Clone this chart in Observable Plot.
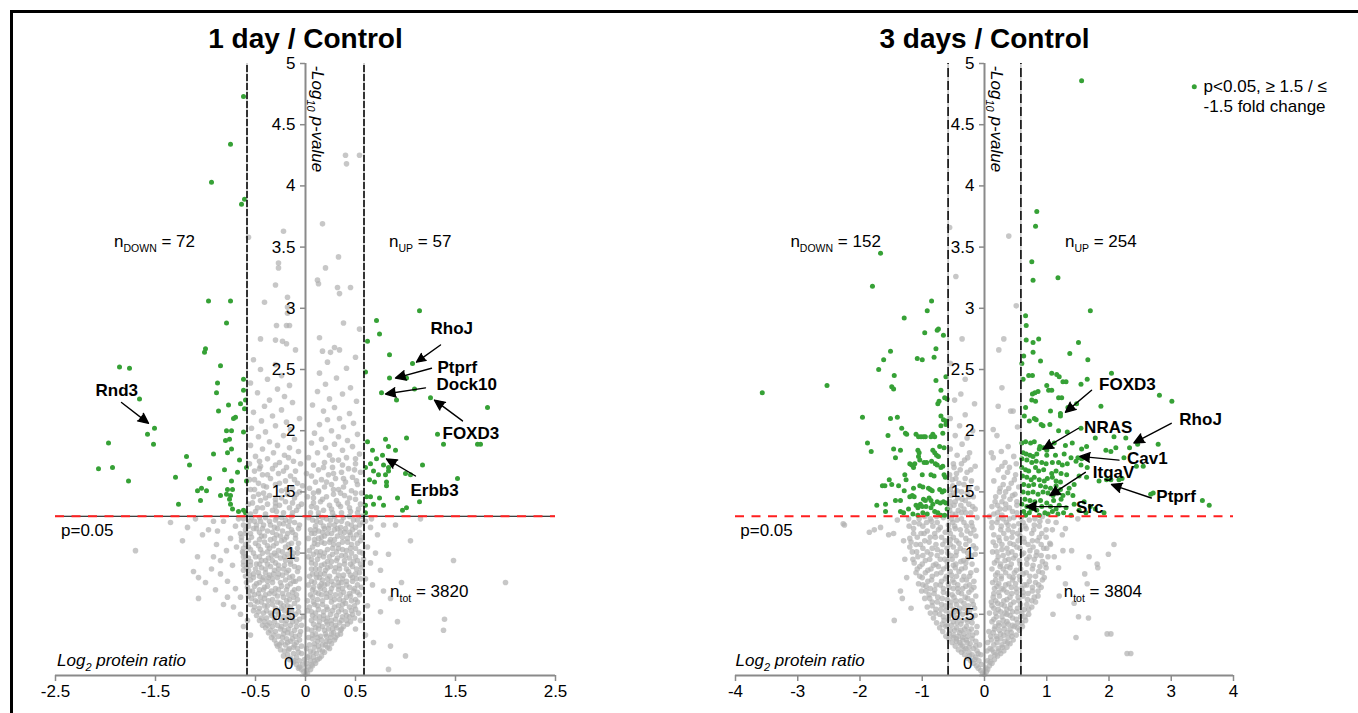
<!DOCTYPE html>
<html><head><meta charset="utf-8">
<script src="https://cdn.jsdelivr.net/npm/d3@7"></script>
<script src="https://cdn.jsdelivr.net/npm/@observablehq/plot@0.6"></script>
<style>
html,body{margin:0;padding:0;background:#fff;}
#wrap{position:relative;width:1358px;height:713px;overflow:hidden;}
#frame{position:absolute;left:10px;top:10px;width:1400px;height:800px;border-top:3px solid #000;border-left:3px solid #000;}
.panel{position:absolute;top:0;}
</style></head><body>
<div id="wrap"><div id="frame"></div><div id="p1" class="panel" style="left:0;width:680px"></div><div id="p2" class="panel" style="left:680px;width:678px"></div></div>
<script>
// ---------- data: 1 day / Control ----------
const greenDay1 = [
[-0.62,4.73],[-0.75,4.34],[-0.94,4.03],[-0.61,3.89],[-0.64,3.85],[-0.97,3.06],[-0.75,3.06],[-0.79,2.88],[-1.00,2.67],[-1.01,2.64],
[-1.86,2.52],[-1.76,2.51],[-0.85,2.53],[-0.62,2.42],[-0.88,2.39],[-0.89,2.31],[-0.62,2.33],[-1.66,2.26],[-0.60,2.25],[-0.77,2.21],
[-0.65,2.22],[-0.61,2.18],[-0.87,2.16],[-0.70,2.11],[-0.72,2.10],[-1.51,2.02],[-1.58,1.97],[-0.79,2.00],[-0.74,2.00],[-0.62,1.99],
[-1.52,1.89],[-1.97,1.90],[-0.80,1.92],[-0.76,1.93],[-0.74,1.85],[-0.78,1.82],[-0.92,1.81],[-1.19,1.79],[-1.16,1.72],[-0.66,1.76],
[-2.07,1.69],[-1.93,1.70],[-0.81,1.68],[-0.59,1.70],[-0.68,1.66],[-1.30,1.62],[-1.77,1.59],[-0.96,1.61],[-0.74,1.59],[-0.59,1.59],
[-1.04,1.53],[-1.08,1.51],[-0.99,1.51],[-0.78,1.52],[-0.73,1.52],[-0.85,1.47],[-0.79,1.48],[-0.75,1.47],[-1.05,1.43],[-1.27,1.40],
[-0.76,1.44],[-0.75,1.40],[-0.73,1.36],[-0.67,1.34],[-0.62,1.35],[-0.60,1.33],
[1.14,2.98],[0.71,2.90],[0.74,2.79],[0.62,2.73],[0.84,2.62],[1.07,2.55],[0.60,2.48],[0.84,2.43],[1.01,2.43],[1.09,2.34],
[0.76,2.31],[0.91,2.25],[1.25,2.27],[1.82,2.19],[1.32,1.97],[1.38,1.89],[1.72,1.89],[1.75,1.89],[0.62,1.91],[0.80,1.93],
[1.01,1.94],[0.67,1.84],[0.83,1.87],[0.90,1.84],[0.77,1.80],[0.71,1.77],[0.65,1.73],[0.78,1.72],[0.83,1.70],[0.83,1.67],
[0.60,1.70],[1.17,1.72],[0.68,1.67],[0.73,1.64],[0.80,1.64],[1.00,1.65],[1.05,1.64],[1.52,1.61],[0.64,1.60],[0.81,1.58],
[0.81,1.55],[0.69,1.58],[0.92,1.45],[0.61,1.46],[0.65,1.46],[0.74,1.45],[1.14,1.42],[0.60,1.39],[0.68,1.40],[0.78,1.39],
[1.01,1.37],[0.97,1.35],[0.60,1.33]
];
const greyDay1 = [
[0.00,0.01],[0.02,0.02],[-0.02,0.03],[0.01,0.04],[-0.04,0.05],[0.05,0.05],[-0.06,0.07],[0.03,0.07],[0.07,0.08],[-0.09,0.09],[-0.03,0.09],[0.10,0.10],[0.01,0.10],
[-0.12,0.11],[-0.06,0.12],[0.05,0.12],[0.12,0.13],[-0.15,0.14],[-0.09,0.15],[0.02,0.15],[0.08,0.15],[0.16,0.16],[-0.18,0.17],[-0.12,0.18],[-0.04,0.18],[0.11,0.18],[0.19,0.19],[-0.21,0.20],[0.05,0.20],[0.14,0.21],
[-0.25,0.21],[-0.16,0.22],[-0.08,0.22],[0.09,0.23],[0.22,0.23],[-0.28,0.24],[-0.20,0.25],[-0.11,0.25],[0.04,0.25],[0.17,0.25],[0.26,0.26],[-0.24,0.27],[-0.15,0.28],[0.12,0.28],[0.21,0.28],[0.29,0.29],[-0.31,0.29],[-0.06,0.29],[0.07,0.30],[-0.19,0.30],[0.25,0.31],
[-0.34,0.31],[-0.27,0.32],[-0.10,0.32],[0.15,0.32],[0.32,0.33],[-0.22,0.34],[-0.14,0.34],[0.10,0.34],[0.20,0.34],[0.28,0.35],[-0.37,0.35],[-0.30,0.36],[-0.05,0.36],[0.35,0.37],[0.06,0.37],[-0.25,0.38],[-0.17,0.38],[0.13,0.38],[0.23,0.38],[0.31,0.39],[-0.40,0.39],[-0.33,0.40],[-0.09,0.40],[0.17,0.40],[0.38,0.40],
[-0.43,0.41],[-0.28,0.41],[-0.20,0.42],[0.08,0.42],[0.26,0.42],[0.34,0.43],[-0.36,0.43],[-0.13,0.44],[0.14,0.44],[0.21,0.44],[0.41,0.45],[-0.46,0.45],[-0.24,0.45],[-0.06,0.46],[0.30,0.46],[-0.39,0.47],[-0.31,0.47],[0.10,0.47],[0.37,0.48],[0.44,0.48],[-0.17,0.48],[-0.49,0.49],[0.18,0.49],[0.25,0.50],[-0.27,0.50],[-0.10,0.50],[0.47,0.50],
[-0.42,0.51],[-0.35,0.51],[0.06,0.52],[0.33,0.52],[0.40,0.52],[-0.52,0.53],[-0.21,0.53],[-0.14,0.53],[0.13,0.54],[0.22,0.54],[0.50,0.54],[-0.46,0.55],[-0.30,0.55],[-0.07,0.56],[0.29,0.56],[0.44,0.56],[-0.38,0.57],[-0.18,0.57],[0.09,0.58],[0.17,0.58],[0.37,0.58],[-0.55,0.58],[-0.25,0.59],[-0.11,0.59],[0.26,0.60],[0.52,0.60],[-0.44,0.60],[0.46,0.61],
[-0.50,0.61],[-0.33,0.62],[-0.16,0.62],[0.12,0.62],[0.34,0.62],[-0.41,0.63],[-0.22,0.64],[0.07,0.64],[0.21,0.64],[0.41,0.64],[-0.57,0.65],[-0.28,0.65],[-0.09,0.66],[0.16,0.66],[0.30,0.66],[0.54,0.66],[-0.47,0.67],[-0.36,0.67],[-0.13,0.68],[0.10,0.68],[0.25,0.68],[0.38,0.68],[0.48,0.69],[-0.53,0.69],[-0.19,0.70],[-0.42,0.70],[0.19,0.70],[0.33,0.70],
[-0.30,0.71],[-0.07,0.71],[0.08,0.72],[0.44,0.72],[-0.58,0.72],[-0.38,0.73],[-0.24,0.73],[0.14,0.73],[0.28,0.74],[0.52,0.74],[-0.49,0.75],[-0.15,0.75],[0.22,0.75],[0.36,0.76],[-0.33,0.76],[-0.10,0.77],[0.06,0.77],[0.41,0.77],[-0.55,0.78],[-0.43,0.78],[-0.20,0.78],[0.17,0.78],[0.31,0.79],[0.55,0.79],[-0.28,0.80],[0.11,0.80],[0.47,0.80],[-0.37,0.80],
[-0.60,0.81],[-0.46,0.81],[-0.13,0.81],[0.24,0.81],[0.38,0.82],[-0.23,0.82],[-0.52,0.83],[-0.32,0.83],[0.07,0.83],[0.15,0.83],[0.50,0.83],[-0.40,0.84],[-0.08,0.85],[0.29,0.85],[0.43,0.85],[-0.17,0.86],[0.20,0.86],[-0.57,0.86],[-0.27,0.87],[0.10,0.87],[0.34,0.87],[0.56,0.88],[-0.44,0.88],[-0.35,0.89],[-0.11,0.89],[0.25,0.89],[0.47,0.89],[-0.62,0.90],[0.16,0.90],[-0.21,0.90],
[-0.49,0.91],[0.39,0.91],[0.06,0.92],[-0.30,0.92],[-0.55,0.93],[-0.15,0.93],[0.22,0.93],[0.31,0.94],[0.52,0.94],[-0.40,0.94],[-0.09,0.95],[0.12,0.95],[0.44,0.96],[-0.25,0.96],[-0.60,0.97],[-0.46,0.97],[0.18,0.97],[0.36,0.98],[-0.34,0.98],[-0.18,0.99],[0.08,0.99],[0.27,0.99],[0.57,1.00],[-0.52,1.00],[-0.12,1.00],
[-0.63,1.01],[-0.38,1.01],[0.15,1.01],[0.41,1.02],[-0.27,1.02],[0.22,1.03],[-0.45,1.03],[-0.08,1.04],[0.33,1.04],[0.50,1.04],[-0.57,1.05],[-0.20,1.05],[0.07,1.05],[-0.32,1.06],[0.12,1.07],[0.28,1.07],[0.46,1.07],[-0.50,1.08],[-0.14,1.08],[0.19,1.08],[0.37,1.09],[-0.41,1.09],[-0.24,1.10],[0.55,1.10],[-0.64,1.10],
[-0.35,1.11],[0.09,1.11],[0.25,1.11],[-0.10,1.12],[0.42,1.12],[-0.54,1.13],[-0.19,1.13],[0.16,1.13],[0.32,1.14],[-0.44,1.14],[-0.29,1.15],[0.51,1.15],[0.06,1.16],[0.22,1.16],[-0.60,1.16],[-0.13,1.17],[0.39,1.17],[-0.38,1.18],[-0.23,1.18],[0.13,1.18],[0.29,1.19],[0.47,1.19],[-0.49,1.20],[-0.07,1.20],[0.19,1.20],
[-0.31,1.21],[0.35,1.21],[-0.57,1.22],[-0.17,1.22],[0.10,1.22],[0.54,1.23],[-0.42,1.23],[0.24,1.23],[-0.26,1.24],[0.42,1.24],[-0.11,1.25],[0.15,1.25],[-0.51,1.26],[-0.36,1.26],[0.31,1.26],[-0.20,1.27],[0.07,1.27],[0.48,1.27],[-0.62,1.28],[0.21,1.28],[-0.46,1.29],[-0.29,1.29],[0.38,1.29],[-0.14,1.30],[0.13,1.30],[0.56,1.30],
[-0.55,1.32],[-0.40,1.32],[-0.22,1.33],[0.05,1.33],[0.27,1.33],[0.45,1.34],[-0.33,1.35],[-0.09,1.35],[0.18,1.35],[0.53,1.36],[-0.48,1.37],[-0.16,1.37],[0.11,1.37],[0.35,1.38],[-0.26,1.39],[0.24,1.39],[-0.57,1.40],[-0.38,1.40],[-0.04,1.40],[0.42,1.41],[0.15,1.42],[-0.20,1.42],[-0.45,1.43],[0.31,1.43],[0.50,1.44],[-0.30,1.44],[-0.11,1.45],[0.08,1.45],[0.21,1.46],[-0.52,1.46],[0.39,1.47],[-0.36,1.47],[-0.18,1.48],[0.28,1.48],[0.56,1.49],[-0.42,1.49],[0.13,1.50],[-0.06,1.50],
[-0.24,1.51],[0.46,1.51],[-0.55,1.52],[0.33,1.52],[-0.13,1.53],[0.04,1.53],[0.19,1.54],[-0.39,1.54],[-0.30,1.56],[0.26,1.56],[0.52,1.56],[-0.47,1.57],[-0.08,1.57],[0.10,1.58],[0.40,1.58],[-0.20,1.59],[0.16,1.60],[-0.56,1.60],[-0.35,1.61],[0.30,1.61],[0.47,1.62],[-0.15,1.63],[0.06,1.63],[-0.43,1.64],[0.23,1.64],[-0.27,1.65],[0.36,1.66],[0.55,1.66],[-0.51,1.67],[-0.10,1.67],[0.13,1.68],[-0.33,1.69],[0.43,1.69],[-0.19,1.70],[0.27,1.70],
[-0.45,1.71],[0.08,1.72],[-0.56,1.73],[0.50,1.73],[-0.26,1.74],[0.19,1.74],[-0.12,1.75],[0.33,1.76],[-0.38,1.77],[0.41,1.78],[0.03,1.78],[-0.50,1.79],[-0.21,1.80],[0.24,1.80],[0.54,1.81],[-0.32,1.82],[0.12,1.82],[-0.07,1.83],[0.37,1.84],[-0.43,1.85],[-0.16,1.86],[0.20,1.86],[0.47,1.87],[-0.55,1.88],[-0.28,1.88],[0.29,1.89],[0.06,1.90],
[-0.36,1.91],[0.42,1.92],[-0.11,1.93],[0.16,1.93],[-0.47,1.95],[0.33,1.95],[-0.22,1.96],[0.52,1.97],[0.09,1.98],[-0.40,1.99],[0.26,2.00],[-0.15,2.01],[-0.54,2.02],[0.38,2.03],[-0.30,2.04],[0.14,2.05],[0.48,2.06],[-0.19,2.07],[-0.44,2.08],[0.22,2.09],[-0.06,2.10],[0.34,2.10],
[-0.33,2.12],[0.44,2.14],[-0.52,2.15],[0.18,2.16],[-0.24,2.17],[0.29,2.19],[-0.41,2.20],[0.07,2.21],[-0.13,2.23],[0.51,2.24],[-0.36,2.25],[0.24,2.26],[-0.21,2.28],[0.37,2.30],[-0.48,2.31],[0.12,2.32],[-0.28,2.34],[0.45,2.35],[-0.16,2.37],[0.20,2.38],[-0.55,2.39],
[-0.38,2.42],[0.31,2.43],[-0.24,2.45],[0.14,2.47],[-0.45,2.50],[0.41,2.51],[-0.30,2.54],[0.22,2.56],[-0.52,2.58],[0.50,2.60],[-0.10,2.66],[0.17,2.65],[0.25,2.64],[0.34,2.66],[0.29,2.68],
[-0.45,2.75],[0.14,2.76],[-0.30,2.74],[-0.23,2.73],[-0.19,2.71],[0.38,2.88],[-0.29,2.86],[-0.19,2.86],[-0.16,2.86],[0.54,2.83],[-0.41,3.05],[-0.18,3.09],[-0.18,3.01],[-0.18,2.96],[-0.30,3.19],[0.32,3.17],[0.34,3.12],[0.45,3.17],[0.12,3.23],[0.13,3.20],[0.20,3.33],[0.33,3.42],[-0.27,3.37],[-0.27,3.33],[-0.57,3.58],[-0.22,3.63],[0.17,3.69],[0.40,4.25],[0.41,4.18],[0.54,4.25],
[-1.23,1.10],[-1.70,1.02],[-1.18,1.21],[-1.03,1.15],[-0.92,1.26],[-0.82,1.26],[-0.70,1.22],[-0.65,1.16],[-0.89,1.07],[-0.79,1.02],[-0.69,1.05],[-1.08,0.97],[-0.94,0.87],[-1.07,0.80],[-1.12,0.85],[-1.00,0.76],[-0.85,0.83],[-0.78,0.77],[-0.70,0.71],[-0.65,0.64],[-1.07,0.63],[-0.78,0.64],[-0.72,0.56],[-0.65,0.50],[-0.85,0.94],[-0.73,0.90],[-0.92,0.97],[-0.62,0.86],[-0.62,0.97],[-0.75,1.12],[-0.97,1.19],[-1.35,1.25],[-1.10,1.28],[-0.88,1.18],[-0.67,1.28],[-0.58,0.45],[-0.62,0.40],[-0.90,0.70],[-0.82,0.58],[-0.55,0.33],
[0.60,1.26],[0.65,1.21],[0.72,1.15],[0.78,1.23],[0.90,1.23],[0.83,0.99],[0.65,0.92],[0.75,0.86],[0.60,0.79],[0.67,0.74],[0.78,0.69],[0.85,0.63],[0.96,0.76],[0.62,0.57],[0.75,0.52],[0.92,0.44],[1.48,0.94],[2.00,0.76],[1.39,0.46],[1.38,0.37],[0.85,0.24],[1.00,0.16],[0.83,0.05],[0.60,0.33],[0.68,0.27],[0.62,1.05],[0.70,1.00],[1.05,1.10],[1.15,1.28],[0.66,1.28],[0.58,0.95],[0.55,0.45],[0.50,0.38]
];
const greyDay1Dense = [
[-0.07,0.06],[0.06,0.09],[-0.11,0.12],[0.09,0.12],[-0.01,0.13],[0.14,0.14],[-0.16,0.13],[0.04,0.16],
[-0.22,0.16],[-0.07,0.19],[0.08,0.19],[0.17,0.20],[-0.17,0.21],[0.01,0.22],[0.24,0.22],[-0.12,0.23],[0.13,0.24],[-0.26,0.25],[-0.04,0.24],[0.20,0.25],
[-0.29,0.26],[-0.18,0.27],[-0.09,0.27],[0.09,0.26],[0.16,0.29],[0.24,0.28],[-0.23,0.31],[-0.13,0.30],[0.03,0.31],[0.12,0.31],[0.21,0.32],[0.30,0.31],[-0.32,0.33],[-0.06,0.33],[0.07,0.33],[0.26,0.34],[-0.18,0.35],[0.35,0.34],
[-0.35,0.37],[-0.21,0.37],[-0.11,0.37],[0.02,0.38],[0.10,0.39],[0.19,0.37],[0.27,0.38],[0.36,0.38],[-0.38,0.41],[-0.24,0.40],[-0.15,0.41],[-0.04,0.41],[0.13,0.41],[0.22,0.42],[0.30,0.41],[0.42,0.42],[-0.41,0.44],[-0.31,0.44],[-0.19,0.45],[-0.09,0.44],[0.06,0.45],[0.18,0.46],[0.26,0.45],[0.36,0.45],[0.45,0.44],
[-0.44,0.47],[-0.34,0.49],[-0.22,0.48],[-0.13,0.47],[-0.02,0.48],[0.07,0.49],[0.14,0.48],[0.22,0.47],[0.31,0.49],[0.41,0.49],[0.49,0.47],[-0.47,0.52],[-0.39,0.53],[-0.29,0.52],[-0.17,0.51],[-0.07,0.52],[0.02,0.53],[0.10,0.51],[0.18,0.52],[0.27,0.53],[0.36,0.54],[0.46,0.53],[-0.24,0.55],[0.53,0.51],
[-0.51,0.56],[-0.41,0.57],[-0.33,0.58],[-0.22,0.57],[-0.15,0.56],[0.04,0.56],[0.12,0.57],[0.21,0.56],[0.33,0.57],[0.40,0.59],[0.49,0.57],[-0.48,0.60],[-0.37,0.61],[-0.28,0.60],[-0.19,0.61],[-0.08,0.62],[0.02,0.61],[0.08,0.60],[0.17,0.61],[0.29,0.62],[0.38,0.61],[0.50,0.62],[-0.54,0.63],[-0.45,0.64],[-0.12,0.64],[0.25,0.64],[0.45,0.65],
[-0.51,0.66],[-0.40,0.66],[-0.31,0.67],[-0.23,0.67],[-0.17,0.66],[0.05,0.66],[0.13,0.67],[0.21,0.67],[0.35,0.66],[0.44,0.67],[0.52,0.68],[-0.56,0.69],[-0.46,0.70],[-0.34,0.69],[-0.27,0.70],[-0.11,0.70],[0.07,0.70],[0.15,0.71],[0.26,0.71],[0.37,0.71],[0.49,0.71],[-0.51,0.73],[-0.41,0.72],[-0.18,0.73],[0.03,0.74],[0.19,0.74],[0.33,0.73],[0.41,0.74],[0.56,0.72],
[-0.59,0.76],[-0.46,0.76],[-0.38,0.77],[-0.25,0.76],[-0.12,0.77],[0.09,0.76],[0.16,0.75],[0.26,0.77],[0.33,0.76],[0.47,0.77],[-0.52,0.80],[-0.42,0.80],[-0.33,0.79],[-0.16,0.80],[-0.06,0.79],[0.14,0.80],[0.22,0.79],[0.37,0.79],[0.51,0.79],[-0.56,0.82],[-0.36,0.82],[-0.27,0.83],[-0.19,0.84],[0.04,0.81],[0.11,0.83],[0.19,0.83],[0.33,0.82],[0.45,0.82],[0.54,0.84],[-0.47,0.84],
[-0.59,0.88],[-0.50,0.87],[-0.40,0.87],[-0.31,0.86],[-0.22,0.87],[-0.07,0.88],[0.06,0.87],[0.14,0.87],[0.22,0.88],[0.30,0.88],[0.41,0.87],[0.51,0.87],[-0.55,0.90],[-0.46,0.91],[-0.38,0.91],[-0.27,0.90],[-0.15,0.91],[0.10,0.91],[0.19,0.91],[0.34,0.90],[0.45,0.91],[0.55,0.91],[-0.62,0.93],[-0.44,0.94],[-0.33,0.94],[-0.20,0.94],[0.06,0.95],[0.26,0.93],[0.39,0.94],[0.48,0.93],
[-0.57,0.96],[-0.50,0.97],[-0.37,0.96],[-0.29,0.98],[-0.21,0.97],[-0.13,0.97],[0.03,0.97],[0.14,0.98],[0.24,0.97],[0.32,0.96],[0.40,0.98],[0.50,0.97],[-0.62,1.00],[-0.43,1.00],[-0.31,1.00],[-0.23,1.01],[-0.08,1.00],[0.11,1.01],[0.19,1.00],[0.31,1.01],[0.46,1.00],[0.54,1.01],[-0.55,1.03],[-0.36,1.04],[-0.15,1.03],[0.04,1.02],[0.27,1.04],[0.37,1.03],[0.45,1.04],[-0.62,1.04],
[-0.60,1.07],[-0.47,1.06],[-0.38,1.06],[-0.29,1.08],[-0.17,1.07],[-0.07,1.08],[0.09,1.08],[0.16,1.09],[0.24,1.09],[0.33,1.07],[0.42,1.09],[0.52,1.08],[-0.57,1.10],[-0.46,1.11],[-0.31,1.12],[-0.21,1.11],[0.03,1.12],[0.13,1.12],[0.29,1.11],[0.37,1.13],[0.48,1.12],[-0.64,1.13],[-0.41,1.14],[-0.25,1.14],[-0.10,1.15],[0.19,1.14],[0.45,1.15],[0.56,1.13],
[-0.55,1.16],[-0.46,1.17],[-0.33,1.17],[-0.18,1.16],[0.09,1.16],[0.17,1.17],[0.26,1.16],[0.35,1.17],[0.44,1.17],[0.54,1.17],[-0.60,1.19],[-0.52,1.20],[-0.43,1.20],[-0.28,1.20],[-0.14,1.19],[0.05,1.19],[0.10,1.19],[0.23,1.20],[0.32,1.20],[0.40,1.20],[0.50,1.21],[-0.62,1.23],[-0.49,1.23],[-0.35,1.23],[-0.22,1.24],[-0.06,1.23],[0.18,1.22],[0.29,1.23],[0.46,1.23],[0.57,1.25],[-0.56,1.26],[-0.45,1.26],[-0.30,1.27],[-0.16,1.26],[0.11,1.26],[0.25,1.27],[0.36,1.26],[0.52,1.27],[-0.40,1.29],[-0.24,1.29],[0.03,1.29],[0.17,1.29],[0.29,1.30],[0.44,1.30],[-0.54,1.29],
[-0.50,1.34],[-0.29,1.34],[-0.13,1.33],[0.13,1.33],[0.36,1.33],[0.52,1.33],[-0.43,1.37],[-0.30,1.38],[-0.07,1.38],[0.06,1.38],[0.26,1.36],[0.44,1.37],[-0.53,1.41],[-0.30,1.41],[-0.13,1.41],[0.08,1.41],[0.33,1.40],[0.55,1.40],[-0.40,1.45],[-0.24,1.45],[0.02,1.46],[0.17,1.44],[0.44,1.45],[-0.47,1.48],[-0.09,1.48],[0.08,1.49],[0.35,1.49],[0.50,1.49],
[-0.51,1.52],[-0.19,1.52],[0.13,1.51],[0.28,1.52],[-0.42,1.55],[-0.03,1.55],[0.38,1.54],[-0.26,1.57],[0.21,1.58],[0.51,1.59],[-0.51,1.60],[-0.11,1.60],[0.38,1.61],[-0.38,1.64],[0.01,1.65],[0.28,1.65],[-0.22,1.67],[0.49,1.68],[-0.46,1.69],[0.18,1.70],[-0.30,1.72],[0.37,1.72],[-0.05,1.73],[0.27,1.76],[-0.46,1.75],[-0.17,1.78],[0.50,1.77]
];

// ---------- data: 3 days / Control ----------
const greenDay3 = [
[-1.67,3.45],[-1.80,3.18],[-0.85,3.06],[-0.92,2.98],[-1.29,2.92],[-0.96,2.80],[-0.76,2.82],[-0.74,2.83],[-0.66,2.78],[-1.51,2.65],
[-0.78,2.67],[-1.62,2.58],[-1.08,2.59],[-1.00,2.58],[-0.81,2.60],[-1.70,2.50],[-1.45,2.45],[-0.78,2.41],[-0.62,2.44],[-1.49,2.36],
[-1.46,2.34],[-3.57,2.31],[-2.53,2.37],[-0.70,2.33],[-0.64,2.27],[-0.60,2.26],[-0.73,2.24],[-0.75,2.22],[-1.96,2.11],[-1.51,2.10],
[-1.40,2.11],[-0.70,2.12],[-0.66,2.09],[-0.62,2.08],[-0.62,2.05],[-1.33,2.02],[-0.70,2.04],[-1.27,1.98],[-1.25,1.97],[-1.10,1.97],
[-1.06,1.95],[-1.02,1.95],[-0.98,1.95],[-0.95,1.95],[-0.83,1.97],[-0.86,1.95],[-0.80,1.95],[-0.67,1.98],[-1.55,1.96],[-1.88,1.90],
[-1.82,1.83],[-1.46,1.85],[-1.35,1.84],[-1.43,1.78],[-1.07,1.84],[-1.05,1.82],[-1.06,1.79],[-1.04,1.76],[-0.83,1.84],[-0.80,1.82],
[-0.77,1.80],[-0.74,1.79],[-0.72,1.87],[-0.65,1.86],[-1.20,1.73],[-1.17,1.72],[-1.14,1.70],[-1.12,1.73],[-0.97,1.74],[-0.93,1.74],
[-0.85,1.75],[-0.79,1.73],[-0.76,1.72],[-0.70,1.70],[-0.67,1.71],[-1.28,1.64],[-1.26,1.60],[-1.00,1.64],[-0.86,1.64],[-0.81,1.63],
[-0.65,1.64],[-0.63,1.62],[-1.53,1.60],[-1.64,1.55],[-1.60,1.55],[-1.49,1.56],[-1.38,1.55],[-1.29,1.51],[-1.14,1.53],[-1.04,1.55],
[-0.99,1.54],[-0.90,1.53],[-0.87,1.52],[-0.84,1.51],[-0.72,1.52],[-0.68,1.50],[-0.65,1.51],[-1.20,1.46],[-1.16,1.47],[-1.13,1.46],
[-0.98,1.44],[-0.95,1.43],[-0.89,1.45],[-0.86,1.43],[-0.76,1.42],[-0.71,1.41],[-0.66,1.42],[-0.62,1.41],[-1.73,1.39],[-1.59,1.40],
[-1.43,1.43],[-1.35,1.43],[-1.59,1.34],[-1.35,1.34],[-1.30,1.33],[-1.10,1.39],[-1.07,1.37],[-1.03,1.40],[-1.00,1.38],[-1.15,1.32],
[-1.07,1.31],[-0.99,1.33],[-0.92,1.32],[-0.80,1.34],[-0.75,1.33],[-0.70,1.31],[-0.94,1.38],[-0.86,1.37],[-0.60,1.36],[-0.64,1.31],
[-1.22,1.36],[-0.83,1.40],
[1.56,4.86],[0.84,3.79],[0.82,3.67],[0.76,3.38],[0.78,3.23],[1.18,3.25],[1.70,2.98],[0.66,2.94],[0.67,2.86],[0.67,2.74],
[0.78,2.72],[0.87,2.75],[1.51,2.72],[0.78,2.64],[0.63,2.61],[1.37,2.63],[1.66,2.58],[0.90,2.57],[0.60,2.55],[1.08,2.47],
[1.16,2.46],[1.20,2.44],[0.71,2.45],[0.77,2.45],[1.31,2.40],[1.26,2.40],[0.62,2.42],[1.55,2.38],[1.65,2.42],[2.04,2.47],
[1.00,2.37],[1.03,2.33],[1.08,2.33],[0.86,2.32],[0.81,2.31],[0.77,2.30],[0.76,2.25],[0.82,2.24],[1.19,2.27],[1.24,2.27],
[2.81,2.29],[3.01,2.24],[0.66,2.19],[1.06,2.16],[1.22,2.14],[1.22,2.12],[1.34,2.19],[1.87,2.20],[1.48,2.22],[0.64,2.12],
[0.72,2.08],[0.80,2.10],[0.83,2.09],[0.91,2.05],[0.94,2.04],[1.05,2.05],[1.19,2.00],[1.33,1.99],[1.55,2.02],[1.78,1.94],
[2.08,1.95],[2.27,1.94],[2.33,1.86],[2.46,1.89],[2.79,1.89],[2.11,1.86],[0.60,1.90],[0.66,1.91],[0.74,1.90],[0.80,1.91],
[0.89,1.87],[0.95,1.86],[1.00,1.84],[0.88,1.85],[1.12,1.90],[1.30,1.88],[1.41,1.90],[1.56,1.85],[1.64,1.87],[1.95,1.84],
[2.03,1.83],[0.62,1.82],[0.67,1.81],[0.73,1.80],[0.78,1.79],[0.84,1.81],[1.00,1.80],[1.14,1.80],[1.28,1.81],[1.39,1.78],
[1.50,1.78],[1.56,1.77],[2.24,1.78],[0.60,1.77],[0.68,1.76],[0.76,1.74],[0.83,1.75],[0.92,1.74],[0.99,1.73],[1.09,1.74],
[1.19,1.74],[1.25,1.72],[1.33,1.73],[1.47,1.75],[1.55,1.72],[1.65,1.70],[2.44,1.71],[2.55,1.71],[0.60,1.70],[0.66,1.68],
[0.71,1.67],[0.82,1.70],[0.87,1.67],[0.95,1.68],[1.08,1.65],[1.15,1.67],[1.23,1.65],[1.32,1.64],[1.52,1.63],[1.64,1.62],
[1.84,1.59],[1.96,1.60],[2.03,1.60],[2.16,1.60],[2.21,1.61],[0.61,1.63],[0.68,1.62],[0.75,1.60],[0.80,1.62],[0.88,1.60],
[0.96,1.59],[1.01,1.61],[1.09,1.62],[1.15,1.59],[1.22,1.58],[0.63,1.56],[0.71,1.55],[0.79,1.56],[0.90,1.55],[0.98,1.54],
[1.06,1.53],[1.15,1.55],[1.22,1.52],[1.36,1.53],[1.44,1.56],[2.67,1.48],[2.71,1.49],[3.50,1.43],[3.61,1.39],[0.62,1.50],
[0.70,1.49],[0.78,1.50],[0.86,1.48],[0.94,1.50],[1.02,1.49],[1.10,1.47],[1.18,1.49],[1.26,1.47],[1.34,1.49],[1.42,1.47],
[0.65,1.44],[0.73,1.43],[0.81,1.42],[0.90,1.43],[1.00,1.41],[1.11,1.43],[1.23,1.44],[0.60,1.40],[0.68,1.38],[0.79,1.39],
[0.92,1.38],[1.06,1.38],[1.20,1.39],[1.31,1.37],[0.63,1.34],[0.72,1.33],[0.84,1.35],[0.97,1.33],[1.09,1.34],[1.18,1.32],
[1.27,1.33],[1.39,1.31],[1.52,1.35],[1.63,1.33],[1.78,1.36],[1.92,1.33],[0.66,1.31],[0.88,1.31],[1.02,1.32],[1.44,1.40],
[1.60,1.42],[1.70,1.38],[0.75,1.36],[1.15,1.36]
];
const greyDay3 = [
[0.00,0.01],[-0.03,0.02],[0.03,0.03],[-0.06,0.04],[0.05,0.05],[-0.10,0.06],[0.02,0.06],[-0.13,0.08],[0.08,0.08],[-0.05,0.09],[0.12,0.10],[-0.17,0.10],
[-0.22,0.12],[-0.09,0.12],[0.05,0.12],[0.16,0.13],[-0.27,0.14],[-0.14,0.15],[0.10,0.15],[0.21,0.16],[-0.32,0.17],[-0.20,0.17],[-0.06,0.17],[0.26,0.18],[-0.37,0.19],[-0.25,0.19],[0.15,0.19],[0.04,0.20],[0.31,0.20],[-0.12,0.20],
[-0.42,0.21],[-0.30,0.22],[-0.18,0.22],[0.09,0.22],[0.22,0.22],[0.36,0.23],[-0.47,0.24],[-0.35,0.24],[-0.08,0.25],[0.28,0.25],[0.15,0.25],[0.41,0.26],[-0.23,0.26],[-0.52,0.27],[-0.40,0.27],[0.05,0.27],[0.33,0.28],[-0.14,0.28],[0.46,0.29],[-0.29,0.29],[-0.57,0.30],[0.20,0.30],[-0.45,0.30],
[0.38,0.31],[-0.35,0.31],[-0.62,0.32],[0.10,0.32],[-0.19,0.33],[0.51,0.33],[-0.50,0.33],[0.26,0.34],[-0.40,0.35],[0.43,0.35],[-0.67,0.36],[-0.25,0.36],[0.07,0.36],[0.56,0.37],[-0.55,0.37],[0.32,0.38],[0.16,0.38],[-0.32,0.38],[-0.72,0.39],[-0.45,0.39],[0.48,0.40],[-0.12,0.40],[0.61,0.40],
[-0.60,0.41],[0.23,0.41],[-0.38,0.42],[0.38,0.42],[-0.77,0.43],[-0.20,0.43],[0.53,0.43],[0.12,0.44],[-0.50,0.44],[-0.65,0.45],[0.66,0.45],[0.30,0.45],[-0.28,0.46],[-0.82,0.47],[-0.43,0.47],[0.45,0.47],[0.19,0.48],[0.58,0.48],[-0.57,0.49],[-0.15,0.49],[-0.72,0.50],[0.36,0.50],[0.71,0.50],[-0.35,0.50],
[0.08,0.51],[-0.87,0.51],[-0.48,0.52],[0.26,0.52],[0.52,0.52],[-0.62,0.53],[-0.24,0.53],[0.64,0.54],[-0.78,0.54],[0.15,0.55],[0.41,0.55],[-0.40,0.55],[-0.92,0.56],[0.76,0.56],[-0.55,0.57],[0.32,0.57],[-0.18,0.58],[0.58,0.58],[-0.69,0.58],[0.21,0.59],[-0.33,0.59],[0.47,0.60],[-0.84,0.60],[0.82,0.60],[0.11,0.60],
[-0.46,0.61],[-0.60,0.62],[0.69,0.62],[0.36,0.62],[-0.96,0.63],[-0.27,0.63],[0.54,0.64],[-0.75,0.64],[0.24,0.65],[-0.14,0.65],[0.86,0.65],[-0.52,0.66],[-0.89,0.66],[0.44,0.67],[0.15,0.67],[-0.37,0.67],[0.62,0.68],[-0.66,0.68],[0.77,0.69],[-1.01,0.69],[-0.21,0.70],[0.31,0.70],[-0.80,0.70],
[-0.43,0.71],[0.51,0.71],[0.91,0.72],[-0.57,0.72],[0.20,0.73],[-0.94,0.73],[-0.30,0.73],[0.68,0.74],[-0.71,0.74],[0.39,0.75],[-1.06,0.75],[0.13,0.76],[-0.49,0.76],[0.82,0.76],[-0.17,0.77],[0.57,0.78],[-0.85,0.78],[-0.36,0.78],[0.27,0.79],[-0.63,0.79],[0.96,0.80],[0.46,0.80],[-1.00,0.80],
[-0.24,0.81],[0.73,0.81],[-0.53,0.82],[0.18,0.82],[-0.77,0.83],[0.62,0.83],[-1.10,0.84],[0.34,0.84],[-0.41,0.85],[0.87,0.85],[-0.13,0.86],[-0.91,0.86],[0.51,0.86],[0.12,0.87],[-0.66,0.87],[0.99,0.88],[-0.31,0.88],[0.41,0.88],[-1.04,0.89],[0.25,0.89],[-0.50,0.90],[0.78,0.90],[-0.82,0.90],
[0.57,0.91],[-0.20,0.91],[-1.13,0.92],[0.16,0.92],[-0.60,0.93],[0.93,0.93],[-0.38,0.93],[0.33,0.94],[-0.95,0.94],[0.68,0.95],[-0.71,0.95],[0.47,0.96],[-0.27,0.96],[-1.07,0.97],[1.02,0.97],[0.22,0.97],[-0.46,0.98],[0.83,0.98],[-0.86,0.99],[-0.15,0.99],[0.60,0.99],[-0.59,1.00],[0.38,1.00],
[-1.16,1.01],[0.13,1.01],[-0.33,1.02],[0.73,1.02],[-0.76,1.03],[0.28,1.03],[-0.99,1.04],[0.95,1.04],[-0.50,1.05],[0.52,1.05],[-0.18,1.06],[0.18,1.06],[-0.67,1.07],[1.06,1.07],[-1.10,1.07],[0.41,1.08],[-0.41,1.08],[0.64,1.09],[-0.89,1.09],[-0.24,1.10],[0.85,1.10],[0.24,1.10],
[-0.55,1.11],[-1.20,1.12],[0.35,1.12],[-0.79,1.13],[0.99,1.13],[-0.14,1.14],[0.57,1.14],[-0.37,1.15],[0.15,1.15],[-1.02,1.16],[0.76,1.16],[-0.63,1.17],[0.45,1.17],[-0.28,1.18],[-0.92,1.18],[1.09,1.19],[0.26,1.19],[-0.47,1.20],[0.67,1.20],[-1.14,1.20],
[-0.71,1.21],[0.12,1.21],[-0.20,1.22],[0.88,1.22],[0.38,1.23],[-0.58,1.23],[-1.05,1.24],[0.55,1.24],[-0.33,1.25],[0.20,1.25],[-0.85,1.26],[1.02,1.26],[0.72,1.27],[-0.44,1.27],[-1.22,1.28],[0.30,1.28],[-0.12,1.29],[-0.66,1.29],[0.47,1.29],[0.93,1.30],[-0.96,1.30],
[-0.52,1.32],[-0.30,1.33],[0.21,1.33],[0.45,1.34],[-0.42,1.35],[-0.15,1.36],[0.33,1.36],[-0.55,1.38],[0.12,1.38],[0.52,1.39],[-0.25,1.40],[-0.47,1.42],[0.28,1.42],[0.41,1.44],[-0.36,1.44],[-0.18,1.46],[0.18,1.46],[-0.54,1.47],[0.49,1.48],[-0.28,1.49],[0.34,1.50],[-0.44,1.51],[-0.12,1.53],[0.25,1.53],[0.55,1.54],[-0.51,1.55],[-0.33,1.56],[0.43,1.57],[-0.21,1.59],[0.15,1.59],[-0.46,1.61],[0.31,1.62],[-0.56,1.64],[0.50,1.64],[-0.28,1.66],[-0.39,1.68],[0.22,1.68],[0.40,1.70],[-0.15,1.71],[-0.50,1.73],[0.33,1.74],[-0.32,1.76],[0.14,1.78],[0.47,1.79],[-0.44,1.80],[-0.24,1.82],[0.27,1.83],[-0.55,1.85],[0.38,1.87],[-0.36,1.89],[0.11,1.82],[-0.28,1.94],[-0.47,1.96],[0.20,1.96],[-0.19,2.00],[0.14,2.01],[-0.40,2.04],[0.53,2.03],[-0.55,2.10],[-0.31,2.13],[0.22,2.20],[0.42,2.16],[0.46,2.16],[-0.16,2.22],[-0.48,2.25],[-0.38,2.30],[-0.31,2.42],[0.28,2.35],[-0.55,2.55],[0.23,2.66],[-0.36,2.75],[0.31,2.75],[0.51,3.02],[-0.46,3.26],[0.39,3.59],[-0.56,3.66],
[-2.25,1.23],[-1.85,1.17],[-1.77,1.19],[-1.54,1.15],[-1.67,1.21],[-1.46,1.16],[-2.27,1.24],[-1.35,0.69],[-1.32,0.63],[-1.20,1.05],[-1.30,1.10],[-1.40,1.27],[-1.28,0.95],[-1.25,0.80],[-1.45,0.45],[-1.18,0.55],
[1.97,0.34],[2.29,0.18],[2.08,1.07],[1.99,0.99],[1.81,0.91],[1.65,0.75],[1.67,0.47],[1.51,0.48],[2.35,0.18],[2.03,0.34],[1.05,1.08],[1.26,1.02],[1.40,1.02],[1.68,0.97],[1.82,0.88],[1.61,0.83],[1.19,0.88],[1.30,0.75],[1.44,0.59],[1.47,0.31],[1.15,1.25],[1.30,1.20],[1.50,1.28],[1.20,0.65],[1.10,0.50],[1.25,1.15],[1.12,0.97]
];
const greyDay3Dense = [
[-0.16,0.13],[0.09,0.11],[-0.24,0.16],[0.17,0.17],[-0.10,0.18],[0.23,0.20],[-0.33,0.21],[-0.25,0.23],[0.12,0.21],[0.29,0.23],[-0.14,0.24],[-0.38,0.25],[0.20,0.27],[0.37,0.27],[-0.28,0.27],[-0.45,0.28],[0.11,0.29],[0.26,0.30],[-0.35,0.29],[-0.20,0.30],
[-0.50,0.31],[-0.42,0.32],[-0.27,0.32],[0.19,0.32],[0.31,0.33],[0.44,0.32],[-0.57,0.34],[-0.33,0.34],[-0.13,0.35],[0.14,0.35],[0.36,0.35],[-0.48,0.37],[-0.38,0.37],[-0.21,0.38],[0.24,0.37],[0.41,0.38],[0.53,0.39],[-0.62,0.40],[-0.53,0.41],[-0.29,0.40],[0.17,0.40],[0.31,0.41],[0.45,0.41],[-0.68,0.42],[-0.44,0.43],[-0.27,0.44],[0.23,0.43],[0.36,0.44],[0.60,0.43],[-0.58,0.46],[-0.36,0.45],[-0.20,0.47],[0.15,0.46],[0.51,0.46],[0.28,0.48],[-0.49,0.49],[-0.66,0.48],[0.41,0.49],[0.65,0.48],
[-0.79,0.51],[-0.56,0.51],[-0.41,0.52],[-0.28,0.51],[0.18,0.51],[0.33,0.51],[0.45,0.52],[0.60,0.51],[-0.70,0.54],[-0.50,0.54],[-0.33,0.55],[-0.16,0.55],[0.22,0.54],[0.36,0.54],[0.53,0.55],[0.71,0.54],[-0.84,0.57],[-0.63,0.57],[-0.45,0.58],[-0.26,0.57],[0.12,0.57],[0.27,0.58],[0.42,0.58],[0.68,0.58],[-0.76,0.60],[-0.54,0.60],[-0.38,0.61],[-0.20,0.61],[0.18,0.61],[0.31,0.61],[0.55,0.61],[0.76,0.61],[-0.88,0.63],[-0.68,0.63],[-0.49,0.64],[-0.31,0.64],[0.14,0.64],[0.41,0.64],[0.62,0.65],[0.80,0.64],[-0.81,0.67],[-0.59,0.67],[-0.42,0.68],[-0.25,0.68],[0.23,0.68],[0.36,0.68],[0.52,0.68],[0.70,0.67],[-0.94,0.69],[0.86,0.69],
[-0.87,0.71],[-0.66,0.71],[-0.50,0.71],[-0.35,0.71],[-0.17,0.72],[0.16,0.71],[0.28,0.71],[0.43,0.72],[0.60,0.71],[0.77,0.72],[-0.99,0.74],[-0.78,0.74],[-0.58,0.75],[-0.43,0.74],[-0.24,0.74],[0.23,0.75],[0.34,0.74],[0.50,0.75],[0.64,0.74],[0.87,0.74],[-0.91,0.77],[-0.69,0.77],[-0.51,0.78],[-0.29,0.78],[0.18,0.78],[0.45,0.78],[0.72,0.77],[0.93,0.78],[-1.04,0.81],[-0.84,0.81],[-0.61,0.81],[-0.45,0.81],[-0.33,0.81],[0.27,0.81],[0.40,0.81],[0.56,0.81],[0.82,0.81],[-0.95,0.84],[-0.70,0.84],[-0.55,0.85],[-0.22,0.84],[0.21,0.84],[0.48,0.84],[0.67,0.84],[0.93,0.84],[-1.08,0.87],[-0.86,0.87],[-0.47,0.88],[-0.37,0.87],[0.30,0.87],[0.58,0.87],[0.77,0.87],[-0.74,0.89],[-0.60,0.89],[0.36,0.89],[0.89,0.89],
[-1.00,0.91],[-0.78,0.91],[-0.46,0.91],[-0.30,0.92],[0.26,0.91],[0.43,0.91],[0.68,0.91],[0.98,0.91],[-1.15,0.95],[-0.88,0.95],[-0.64,0.95],[-0.52,0.95],[-0.34,0.94],[0.20,0.94],[0.39,0.95],[0.56,0.94],[0.80,0.95],[-0.99,0.98],[-0.76,0.98],[-0.54,0.98],[-0.21,0.98],[0.30,0.98],[0.50,0.98],[0.72,0.97],[0.91,0.98],[-1.09,1.01],[-0.92,1.01],[-0.69,1.01],[-0.45,1.01],[-0.27,1.00],[0.20,1.01],[0.44,1.01],[0.63,1.00],[0.84,1.01],[-0.84,1.04],[-0.60,1.04],[-0.39,1.04],[-0.14,1.04],[0.36,1.04],[0.57,1.04],[0.78,1.05],[1.00,1.04],[-1.03,1.07],[-0.78,1.07],[-0.55,1.07],[-0.30,1.07],[0.28,1.07],[0.47,1.07],[0.70,1.07],[0.91,1.07],[-1.18,1.09],[-0.96,1.10],[-0.63,1.10],[-0.45,1.10],[0.14,1.09],[0.54,1.10],[0.77,1.10],
[-1.08,1.13],[-0.87,1.13],[-0.69,1.13],[-0.50,1.13],[-0.30,1.12],[0.23,1.13],[0.44,1.13],[0.63,1.12],[0.88,1.13],[-1.14,1.16],[-0.97,1.16],[-0.80,1.16],[-0.55,1.16],[-0.22,1.16],[0.31,1.16],[0.53,1.16],[0.92,1.16],[-0.74,1.19],[-0.57,1.19],[-0.39,1.19],[-0.17,1.19],[0.38,1.19],[0.58,1.19],[0.79,1.19],[0.99,1.19],[-1.21,1.22],[-0.99,1.22],[-0.83,1.22],[-0.48,1.22],[-0.29,1.22],[0.27,1.22],[0.47,1.22],[0.65,1.22],[0.80,1.23],[-1.13,1.25],[-0.93,1.25],[-0.76,1.25],[-0.51,1.25],[-0.21,1.25],[0.12,1.25],[0.35,1.25],[0.62,1.25],[0.89,1.26],[-1.05,1.28],[-0.87,1.28],[-0.53,1.28],[-0.37,1.28],[0.22,1.28],[0.40,1.28],[0.59,1.29],[0.81,1.28],[-0.77,1.30],[0.08,1.30],
[-0.46,1.32],[-0.37,1.33],[-0.22,1.33],[0.15,1.32],[0.28,1.31],[0.52,1.33],[-0.56,1.35],[-0.33,1.36],[0.25,1.36],[0.40,1.37],[-0.49,1.39],[-0.38,1.39],[-0.19,1.38],[0.21,1.39],[0.34,1.40],[-0.55,1.42],[-0.31,1.43],[0.17,1.42],[0.52,1.42],[-0.43,1.45],[-0.25,1.46],[0.31,1.46],[0.45,1.47],[-0.50,1.49],[-0.37,1.50],[0.24,1.50],[-0.55,1.52],[-0.25,1.53],[0.39,1.53],[-0.41,1.57],[0.30,1.56],[-0.52,1.60],[-0.31,1.61],[0.48,1.60],[-0.45,1.65],[0.37,1.66],[-0.22,1.68],[-0.49,1.70],[0.28,1.71],[-0.37,1.73],[0.51,1.73],[-0.27,1.78]
];

// ---------- axes / thresholds ----------
const xTicksDay1 = [-2.5, -1.5, -0.5, 0, 0.5, 1.5, 2.5];
const xTicksDay3 = [-4, -3, -2, -1, 0, 1, 2, 3, 4];
const yTicks = [0, 0.5, 1, 1.5, 2, 2.5, 3, 3.5, 4, 4.5, 5];
const foldThreshold = 0.585;   // log2(1.5)
const pThreshold = 1.301;      // -log10(0.05)

// ---------- annotations ----------
const genesDay1 = [
  {name:"RhoJ", x:1.25, y:2.79, x1:1.35, y1:2.70, x2:1.11, y2:2.56},
  {name:"Ptprf", x:1.32, y:2.47, x1:1.26, y1:2.51, x2:0.90, y2:2.43},
  {name:"Dock10", x:1.31, y:2.33, x1:1.20, y1:2.35, x2:0.80, y2:2.30},
  {name:"FOXD3", x:1.37, y:1.93, x1:1.57, y1:2.08, x2:1.29, y2:2.25},
  {name:"Erbb3", x:1.05, y:1.47, x1:1.10, y1:1.63, x2:0.81, y2:1.77},
  {name:"Rnd3", x:-2.10, y:2.28, x1:-1.84, y1:2.23, x2:-1.57, y2:2.06}
];
const genesDay3 = [
  {name:"FOXD3", x:1.84, y:2.33, x1:1.72, y1:2.33, x2:1.30, y2:2.15},
  {name:"NRAS", x:1.60, y:1.98, x1:1.51, y1:2.02, x2:0.94, y2:1.85},
  {name:"RhoJ", x:3.13, y:2.05, x1:3.00, y1:2.06, x2:2.40, y2:1.90},
  {name:"Cav1", x:2.29, y:1.73, x1:2.16, y1:1.76, x2:1.53, y2:1.79},
  {name:"ItgaV", x:1.74, y:1.61, x1:1.62, y1:1.66, x2:1.05, y2:1.47},
  {name:"Ptprf", x:2.76, y:1.42, x1:2.68, y1:1.45, x2:2.04, y2:1.56},
  {name:"Src", x:1.47, y:1.33, x1:1.34, y1:1.38, x2:0.67, y2:1.38}
];
const countsDay1 = [
  {x:-1.91, y:3.50, main:"n", sub:"DOWN", rest:" = 72"},
  {x:0.84, y:3.50, main:"n", sub:"UP", rest:" = 57"},
  {x:0.85, y:0.64, main:"n", sub:"tot", rest:" = 3820"}
];
const countsDay3 = [
  {x:-3.11, y:3.50, main:"n", sub:"DOWN", rest:" = 152"},
  {x:1.30, y:3.50, main:"n", sub:"UP", rest:" = 254"},
  {x:1.28, y:0.64, main:"n", sub:"tot", rest:" = 3804"}
];
const legendLines = ["p<0.05, \u2265 1.5 / \u2264", "-1.5 fold change"];

const FONT = '"Liberation Sans", Arial, Helvetica, sans-serif';
const GREEN = "#36a136";
const AXIS = "#8a8a8a";

function rich(svg, X, Y, parts, o = {}) {
  const size = o.size || 17, sub = o.sub || 11, shift = o.shift || 5;
  const t = svg.append("text")
    .attr("transform", `translate(${X},${Y})` + (o.rotate ? ` rotate(${o.rotate})` : ""))
    .attr("text-anchor", "start")
    .attr("font-family", FONT).attr("font-size", size).attr("fill", "#000")
    .style("white-space", "pre");
  if (o.italic) t.attr("font-style", "italic");
  let down = false;
  for (const [s, isSub] of parts) {
    const ts = t.append("tspan").text(s);
    if (isSub) { ts.attr("font-size", sub); if (!down) { ts.attr("dy", shift); down = true; } }
    else if (down) { ts.attr("dy", -shift); down = false; }
  }
}

function panel(host, cfg) {
  const X = d => d[0], Y = d => d[1];
  const marks = [
    Plot.dot(cfg.grey, {x: X, y: Y, r: 2.8, fill: "#b2b2b2", fillOpacity: 0.72}),
    Plot.dot(cfg.green, {x: X, y: Y, r: 2.5, fill: GREEN}),
    Plot.ruleX([-foldThreshold, foldThreshold], {y1: 0, y2: 5, stroke: "#a0a0a0", strokeWidth: 1}),
    Plot.ruleX([-foldThreshold, foldThreshold], {y1: 0, y2: 5, stroke: "#000", strokeWidth: 1.5, strokeDasharray: cfg.vDash}),
    Plot.ruleX([0], {y1: 0, y2: 5, stroke: AXIS, strokeWidth: 2}),
    Plot.ruleY([0], {stroke: AXIS, strokeWidth: 2}),
  ];
  if (cfg.pBlack) marks.push(Plot.ruleY([pThreshold], {stroke: "#000", strokeWidth: 1}));
  marks.push(
    Plot.ruleY([pThreshold], {stroke: "#ff1f1f", strokeWidth: 2, strokeDasharray: "9,7.5"}),
    Plot.ruleY(yTicks, {y: d => d, x1: -cfg.tickLen, x2: 0, stroke: AXIS, strokeWidth: 1.5}),
    Plot.text(yTicks.filter(d => d > 0), {x: 0, y: d => d, text: d => String(d), dx: -10, textAnchor: "end", fontSize: 17}),
    Plot.text(yTicks.filter(d => d === 0), {x: 0, y: d => d, text: d => String(d), dx: -12, dy: -12, textAnchor: "end", fontSize: 17}),
    Plot.axisX({ticks: cfg.xTicks, tickFormat: d => String(d), tickSize: 6, tickPadding: 3, stroke: AXIS, strokeWidth: 1.5, fill: "#000", fontSize: 17, label: null}),
    Plot.arrow(cfg.genes, {x1: "x1", y1: "y1", x2: "x2", y2: "y2", stroke: "#000", fill: "#000", strokeWidth: 1.4, headLength: 12, headAngle: 50}),
    Plot.text(cfg.genes, {x: "x", y: "y", text: "name", textAnchor: "start", lineAnchor: "bottom", fontWeight: "bold", fontSize: 17}),
    Plot.text([cfg.title], {frameAnchor: "top", dy: -16, lineAnchor: "bottom", fontSize: 28, fontWeight: "bold"})
  );
  if (cfg.legend) {
    marks.push(
      Plot.dot([cfg.legend.dot], {x: "x", y: "y", r: 2.5, fill: GREEN}),
      Plot.text(cfg.legend.lines, {x: cfg.legend.textX, y: (d, i) => cfg.legend.textY[i], text: d => d, textAnchor: "start", lineAnchor: "bottom", fontSize: 17})
    );
  }
  const chart = Plot.plot({
    width: cfg.width, height: 713,
    marginLeft: 55, marginRight: 125, marginTop: 63, marginBottom: 38,
    x: {domain: cfg.xDomain},
    y: {domain: [0, 5], axis: null},
    style: {fontFamily: FONT, fontSize: "17px", color: "#000", background: "transparent"},
    marks
  });
  host.appendChild(chart);
  const sx = chart.scale("x"), sy = chart.scale("y");
  const svg = d3.select(chart);
  for (const c of cfg.counts) rich(svg, sx.apply(c.x), sy.apply(c.y), [[c.main, false], [c.sub, true], [c.rest, false]], {sub: 10.5, shift: 5});
  rich(svg, sx.apply(cfg.pLabel[0]), sy.apply(cfg.pLabel[1]), [["p=0.05", false]]);
  rich(svg, sx.apply(cfg.xLabel[0]), sy.apply(cfg.xLabel[1]), [["Log", false], ["2", true], [" protein ratio", false]], {italic: true, sub: 11, shift: 5});
  rich(svg, sx.apply(cfg.yLabel[0]), sy.apply(cfg.yLabel[1]), [["-Log", false], ["10", true], [" p-value", false]], {italic: true, sub: 11, shift: 5, rotate: 90});
}

panel(document.getElementById("p1"), {
  width: 680, xDomain: [-2.5, 2.5], xTicks: xTicksDay1, tickLen: 0.05, vDash: "7,2", pBlack: true,
  grey: greyDay1.concat(greyDay1Dense), green: greenDay1, genes: genesDay1, counts: countsDay1, title: "1 day / Control",
  pLabel: [-2.44, 1.135], xLabel: [-2.48, 0.074], yLabel: [0.07, 4.98]
});
panel(document.getElementById("p2"), {
  width: 678, xDomain: [-4, 4], xTicks: xTicksDay3, tickLen: 0.08, vDash: "9,4", pBlack: false,
  grey: greyDay3.concat(greyDay3Dense), green: greenDay3, genes: genesDay3, counts: countsDay3, title: "3 days / Control",
  pLabel: [-3.915, 1.135], xLabel: [-3.99, 0.074], yLabel: [0.11, 4.98],
  legend: {dot: {x: 3.37, y: 4.81}, lines: legendLines, textX: 3.52, textY: [4.77, 4.60]}
});
</script>
</body></html>
